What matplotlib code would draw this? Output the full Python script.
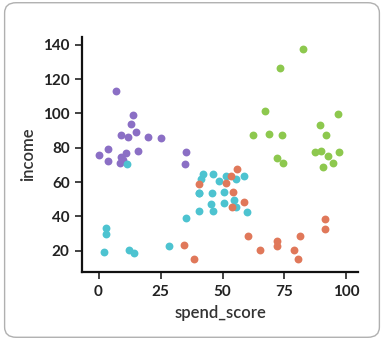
import matplotlib
matplotlib.use("Agg")
import matplotlib.pyplot as plt
from matplotlib.patches import FancyBboxPatch

plt.rcParams['font.family'] = ['Lato', 'DejaVu Sans']

# cluster data (spend_score, income)
purple_x = [7, 14, 13, 15, 9, 12, 20, 25, 16, 4, 0, 4, 11, 9, 8.6, 10, 35.3, 34.7]
purple_y = [113, 99, 94, 89, 87.4, 86.4, 86, 85.5, 78, 79, 76, 72.4, 77, 74.7, 71.3, 73, 77.3, 70.8]

cyan_x = [11.3, 3.2, 3.2, 2.1, 12.3, 14.4, 28.3, 35.1, 40.7, 40.6, 42.3, 41.5, 46.2, 48.6,
          51.4, 55.5, 58.6, 40.4, 45.8, 50.5, 45.4, 46.2, 50.5, 54.5, 55.5, 59.9]
cyan_y = [70.5, 33.4, 29.7, 19.1, 20.4, 18.5, 22.9, 39.2, 43.3, 53.8, 64.5, 61.6, 64.7, 60.8,
          63.8, 61.8, 63.6, 53.8, 53.8, 54, 47.2, 43.3, 48, 49.5, 45.5, 42.5]

orange_x = [34.5, 38.5, 55.8, 40.4, 51.3, 54.3, 53.6, 58.6, 53.8, 60.1, 91.3, 91.3, 81.2,
            72, 72, 65, 78.8, 80.5]
orange_y = [23.3, 15.3, 67.7, 58.9, 59.7, 54.2, 63.5, 48.2, 45.5, 28.6, 38.5, 32.6, 28.6,
            25.6, 22.7, 20.4, 20.4, 15.3]

green_x = [82.5, 73, 67, 62.3, 68.6, 73.9, 72, 74.2, 96.4, 89.4, 91.6, 87.2, 89.9, 92.7,
           96.8, 94.5, 90.4]
green_y = [137.5, 126.5, 101.2, 87.2, 88.3, 87.2, 73.8, 70.9, 99.7, 93, 87.5, 77.7, 78.1,
           75.2, 77.5, 71.3, 68.6]

fig = plt.figure(figsize=(3.84, 3.40), dpi=100)
border = FancyBboxPatch((0.012, 0.008), 0.976, 0.984, boxstyle="round,pad=0,rounding_size=0.03",
                        transform=fig.transFigure, facecolor='white', edgecolor='#b0b0b0',
                        linewidth=1.0, zorder=-1)
fig.patches.append(border)

ax = fig.add_axes([0.214, 0.2, 0.718, 0.692])
ax.set_facecolor('none')

s = 32
ax.scatter(purple_x, purple_y, s=s, color='#8b6fc5', linewidths=0)
ax.scatter(cyan_x, cyan_y, s=s, color='#4dc3d0', linewidths=0)
ax.scatter(orange_x, orange_y, s=s, color='#e0785a', linewidths=0)
ax.scatter(green_x, green_y, s=s, color='#8dc84e', linewidths=0)

ax.set_xlim(-6.6, 104.6)
ax.set_ylim(7.6, 144.7)
ax.set_xticks([0, 25, 50, 75, 100])
ax.set_yticks([20, 40, 60, 80, 100, 120, 140])

for side in ['top', 'right']:
    ax.spines[side].set_visible(False)
for side in ['left', 'bottom']:
    ax.spines[side].set_linewidth(1.6)
    ax.spines[side].set_color('#111111')

ax.tick_params(axis='both', length=5, width=1.2, color='#222222', labelsize=11,
               labelcolor='#222222', pad=4)
for lbl in ax.get_xticklabels() + ax.get_yticklabels():
    lbl.set_fontweight('bold')

ax.set_xlabel('spend_score', fontsize=12, color='#333333', fontweight='semibold', labelpad=5)
ax.set_ylabel('income', fontsize=12, color='#333333', fontweight='semibold', labelpad=5)

fig.savefig('out.png', dpi=100)
